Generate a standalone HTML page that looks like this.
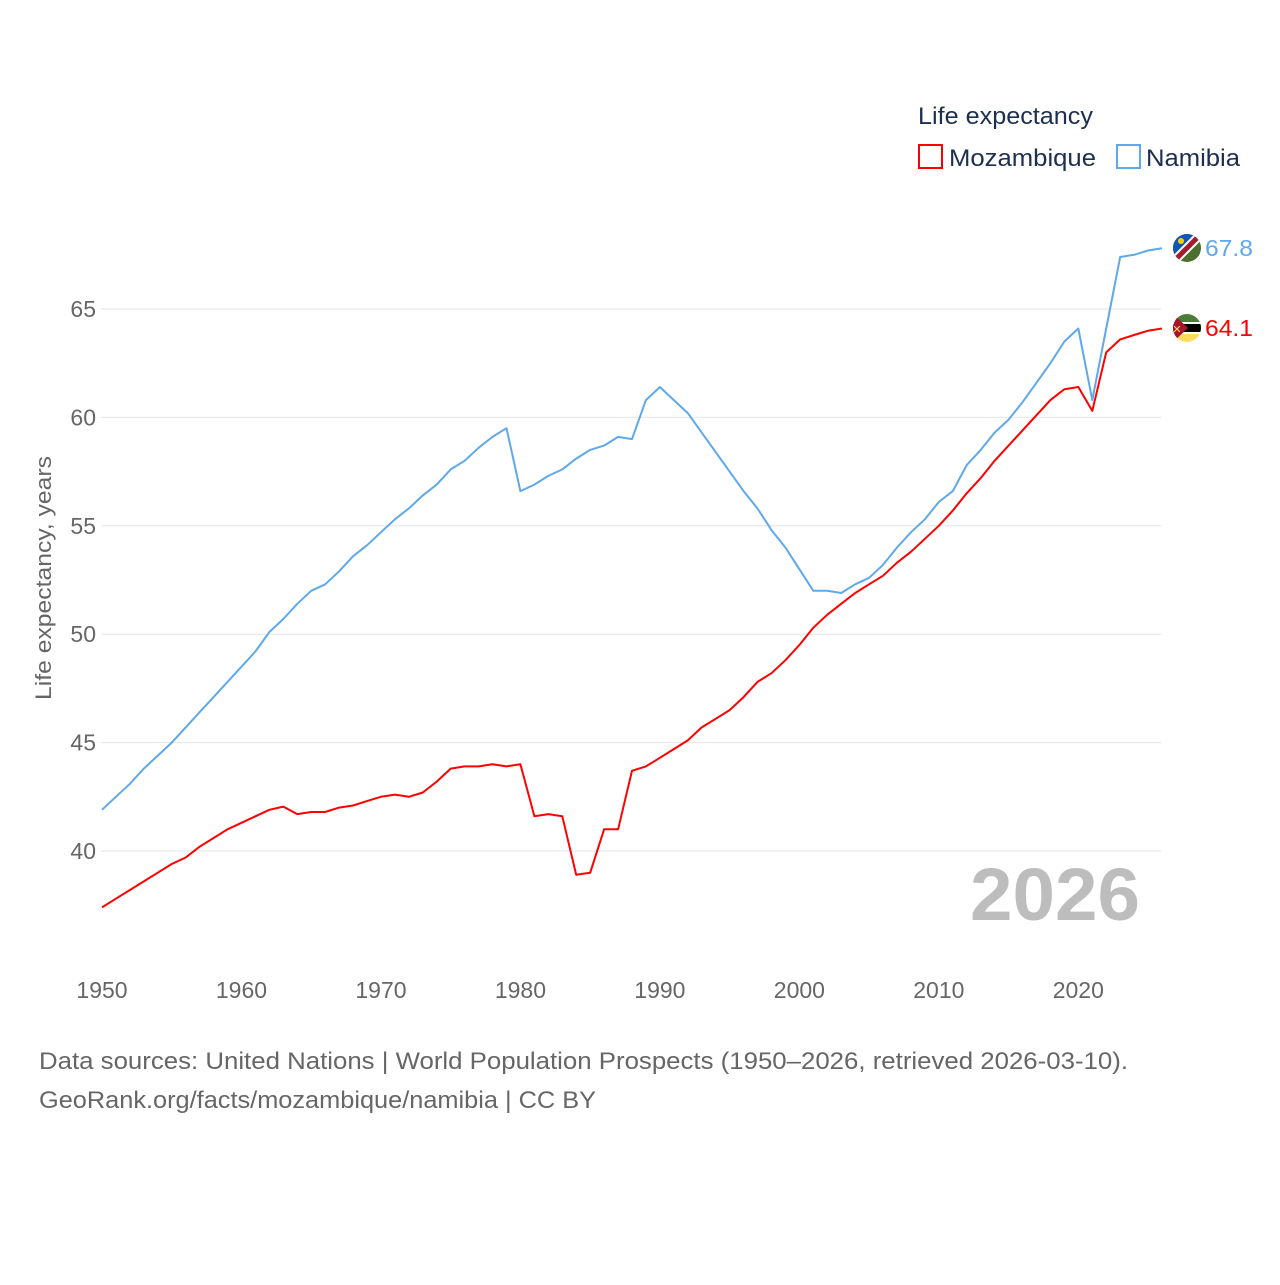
<!DOCTYPE html>
<html><head><meta charset="utf-8">
<style>
html,body{margin:0;padding:0;background:#fff;}
body{width:1280px;height:1280px;overflow:hidden;font-family:"Liberation Sans",sans-serif;}
</style></head>
<body>
<svg id="chart" width="1280" height="1280" viewBox="0 0 1280 1280" xmlns="http://www.w3.org/2000/svg" font-family="Liberation Sans, sans-serif">
  <defs>
    <clipPath id="cNam"><circle cx="1187" cy="248" r="14"/></clipPath>
    <clipPath id="cMoz"><circle cx="1187" cy="328" r="14"/></clipPath>
  </defs>
  <g id="grid"></g>
  <g id="yticks"></g>
  <g id="xticks"></g>
  <text transform="translate(51,578) rotate(-90)" text-anchor="middle" font-size="22" fill="#666" textLength="244" lengthAdjust="spacingAndGlyphs">Life expectancy, years</text>
  <text x="1140" y="920" text-anchor="end" font-size="74" font-weight="bold" fill="#bdbdbd" textLength="170" lengthAdjust="spacingAndGlyphs">2026</text>
  <g id="lines"></g>
  <g>
    <text x="918" y="124" font-size="24" fill="#1d2f4e" textLength="175" lengthAdjust="spacingAndGlyphs">Life expectancy</text>
    <g>
      <rect x="919" y="145" width="23" height="23" fill="none" stroke="#ff0000" stroke-width="2"/>
      <text x="949" y="166" font-size="24" fill="#1d2f4e" textLength="147" lengthAdjust="spacingAndGlyphs">Mozambique</text>
    </g>
    <g>
      <rect x="1117" y="145" width="23" height="23" fill="none" stroke="#5ea8ec" stroke-width="2"/>
      <text x="1146" y="166" font-size="24" fill="#1d2f4e" textLength="94" lengthAdjust="spacingAndGlyphs">Namibia</text>
    </g>
  </g>
  <g clip-path="url(#cNam)">
    <rect x="1170" y="231" width="34" height="34" fill="#4a6f2e"/>
    <polygon points="1170,231 1204,231 1170,265" fill="#1156b4"/>
    <line x1="1168" y1="267" x2="1206" y2="229" stroke="#fff" stroke-width="9"/>
    <line x1="1168" y1="267" x2="1206" y2="229" stroke="#a31d2e" stroke-width="5"/>
    <circle cx="1181" cy="241" r="3" fill="#ffce00"/>
  </g>
  <g clip-path="url(#cMoz)">
    <rect x="1170" y="311" width="34" height="11" fill="#4a7c3a"/>
    <rect x="1170" y="322" width="34" height="12" fill="#fff"/>
    <rect x="1170" y="324" width="34" height="8" fill="#000"/>
    <rect x="1170" y="334" width="34" height="11" fill="#fcdc58"/>
    <polygon points="1170,311 1188,328 1170,345" fill="#a3162b"/>
    <text x="1177" y="333" font-size="11" fill="#fcdc58" text-anchor="middle">✕</text>
  </g>
  <text x="1205" y="256" font-size="23" fill="#5ea8ec" textLength="48" lengthAdjust="spacingAndGlyphs">67.8</text>
  <text x="1205" y="336" font-size="23" fill="#ff0000" textLength="48" lengthAdjust="spacingAndGlyphs">64.1</text>
  <text x="39" y="1069" font-size="24" fill="#666" textLength="1089" lengthAdjust="spacingAndGlyphs">Data sources: United Nations | World Population Prospects (1950–2026, retrieved 2026-03-10).</text>
  <text x="39" y="1108" font-size="24" fill="#666" textLength="557" lengthAdjust="spacingAndGlyphs">GeoRank.org/facts/mozambique/namibia | CC BY</text>
</svg>
<script>
const years = [];
for (let y = 1950; y <= 2026; y++) years.push(y);
const namibia = [41.9,42.5,43.1,43.8,44.4,45.0,45.7,46.4,47.1,47.8,48.5,49.2,50.1,50.7,51.4,52.0,52.3,52.9,53.6,54.1,54.7,55.3,55.8,56.4,56.9,57.6,58.0,58.6,59.1,59.5,56.6,56.9,57.3,57.6,58.1,58.5,58.7,59.1,59.0,60.8,61.4,60.8,60.2,59.3,58.4,57.5,56.6,55.8,54.8,54.0,53.0,52.0,52.0,51.9,52.3,52.6,53.2,54.0,54.7,55.3,56.1,56.6,57.8,58.5,59.3,59.9,60.7,61.6,62.5,63.5,64.1,60.8,64.1,67.4,67.5,67.7,67.8];
const mozambique = [37.4,37.8,38.2,38.6,39.0,39.4,39.7,40.2,40.6,41.0,41.3,41.6,41.9,42.05,41.7,41.8,41.8,42.0,42.1,42.3,42.5,42.6,42.5,42.7,43.2,43.8,43.9,43.9,44.0,43.9,44.0,41.6,41.7,41.6,38.9,39.0,41.0,41.0,43.7,43.9,44.3,44.7,45.1,45.7,46.1,46.5,47.1,47.8,48.2,48.8,49.5,50.3,50.9,51.4,51.9,52.3,52.7,53.3,53.8,54.4,55.0,55.7,56.5,57.2,58.0,58.7,59.4,60.1,60.8,61.3,61.4,60.3,63.0,63.6,63.8,64.0,64.1];
const yTicks = [40,45,50,55,60,65];
const xTicks = [1950,1960,1970,1980,1990,2000,2010,2020];

const NS = "http://www.w3.org/2000/svg";
const xs = y => 102 + (y - 1950) * (1162 - 102) / 76;
const ys = v => 309 + (65 - v) * (851 - 309) / 25;

const grid = document.getElementById('grid');
const yt = document.getElementById('yticks');
yTicks.forEach(t => {
  const l = document.createElementNS(NS, 'line');
  
  
  l.setAttribute('x1', 101); l.setAttribute('x2', 1161);
  l.setAttribute('y1', ys(t)); l.setAttribute('y2', ys(t));
  l.setAttribute('stroke', '#e6e6e6'); l.setAttribute('stroke-width', '1');
  grid.appendChild(l);
  const tx = document.createElementNS(NS, 'text');
  
  
  tx.setAttribute('x', 96); tx.setAttribute('y', ys(t) + 8);
  tx.setAttribute('text-anchor', 'end'); tx.setAttribute('font-size', '23'); tx.setAttribute('fill', '#666');
  tx.textContent = t;
  yt.appendChild(tx);
});
const xt = document.getElementById('xticks');
xTicks.forEach(t => {
  const tx = document.createElementNS(NS, 'text');
  
  
  tx.setAttribute('x', xs(t)); tx.setAttribute('y', 998);
  tx.setAttribute('text-anchor', 'middle'); tx.setAttribute('font-size', '23'); tx.setAttribute('fill', '#666');
  tx.textContent = t;
  xt.appendChild(tx);
});
const lines = document.getElementById('lines');
function draw(vals, color, name) {
  const p = document.createElementNS(NS, 'polyline');
  
  
  p.setAttribute('points', vals.map((v, i) => xs(years[i]).toFixed(1) + ',' + ys(v).toFixed(1)).join(' '));
  p.setAttribute('fill', 'none'); p.setAttribute('stroke', color); p.setAttribute('stroke-width', '2');
  p.setAttribute('stroke-linejoin', 'round');
  lines.appendChild(p);
}
draw(namibia, '#5ea8ec', 'namibia-line');
draw(mozambique, '#ff0000', 'mozambique-line');
</script>
</body></html>
